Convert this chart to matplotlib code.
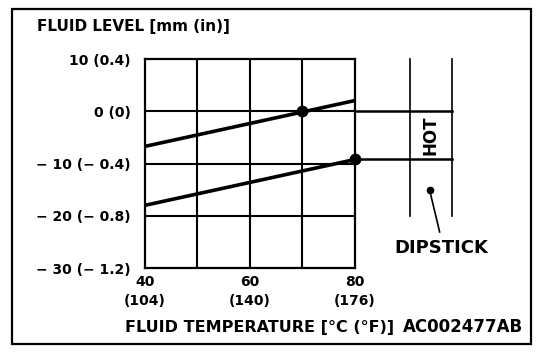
import matplotlib
matplotlib.use("Agg")
import matplotlib.pyplot as plt
from matplotlib.patches import Rectangle

# Chart values.
y_ticks = [10, 0, -10, -20, -30]
y_labels = ["10 (0.4)", "0 (0)", "− 10 (− 0.4)", "− 20 (− 0.8)", "− 30 (− 1.2)"]
x_ticks = [40, 60, 80]
x_labels = ["40\n(104)", "60\n(140)", "80\n(176)"]
x_grid = [50, 60, 70]
y_grid = [0, -10, -20]

upper_temp = [40, 80]
upper_level = [-6.7, 2.1]
lower_temp = [40, 80]
lower_level = [-18.0, -9.2]
hot_temp = [70, 80]
hot_level = [0, -9.2]

# Dipstick drawing (same data units as the chart, outside the axes).
dipstick_x = [90.4, 98.4]
dipstick_top = 10
dipstick_bottom = -20
dipstick_dot = (94.2, -15.1)
dipstick_leader_end = (96.1, -23.1)

W, H = 560, 364
fig = plt.figure(figsize=(W / 100, H / 100), dpi=100)
plt.rcParams["font.family"] = "DejaVu Sans"
plt.rcParams["font.weight"] = "bold"

ax = fig.add_axes([144.7 / W, 1 - 268 / H, (355 - 144.7) / W, (268 - 59.3) / H])
ax.set_xlim(40, 80)
ax.set_ylim(-30, 10)

for s in ax.spines.values():
    s.set_linewidth(1.6)

ax.set_yticks(y_ticks)
ax.set_yticklabels(y_labels, fontsize=10, fontweight="bold")
ax.set_xticks(x_ticks)
ax.set_xticklabels(x_labels, fontsize=10, fontweight="bold", linespacing=1.45)
ax.tick_params(axis="y", length=0, pad=10)
ax.tick_params(axis="x", length=0, pad=5)

for x in x_grid:
    ax.axvline(x, color="black", lw=1.5)
for y in y_grid:
    ax.axhline(y, color="black", lw=1.5)

ax.plot(upper_temp, upper_level, color="black", lw=2.6, solid_capstyle="butt")
ax.plot(lower_temp, lower_level, color="black", lw=2.6, solid_capstyle="butt")
ax.plot(hot_temp, hot_level, "o", color="black", ms=7.5, clip_on=False, zorder=5)

# HOT range lines extended to the dipstick
for y in hot_level:
    ax.plot([80, dipstick_x[1]], [y, y], color="black", lw=1.8, clip_on=False)
for x in dipstick_x:
    ax.plot([x, x], [dipstick_top, dipstick_bottom], color="black", lw=1.2, clip_on=False)
ax.text(sum(dipstick_x) / 2, sum(hot_level) / 2, "HOT", rotation=90,
        ha="center", va="center", fontsize=12, fontweight="bold")
ax.plot(*dipstick_dot, "o", color="black", ms=4.5, clip_on=False)
ax.plot([dipstick_dot[0], dipstick_leader_end[0]], [dipstick_dot[1], dipstick_leader_end[1]],
        color="black", lw=1.2, clip_on=False)
ax.text(96.5, -27.2, "DIPSTICK", ha="center", va="baseline", fontsize=13, fontweight="bold")

fig.text(37 / W, 1 - 30.7 / H, "FLUID LEVEL [mm (in)]", ha="left", va="baseline",
         fontsize=11, fontweight="bold")
fig.text(125 / W, 1 - 332 / H, "FLUID TEMPERATURE [°C (°F)]", ha="left", va="baseline",
         fontsize=11.5, fontweight="bold")
fig.text(403 / W, 1 - 332 / H, "AC002477AB", ha="left", va="baseline",
         fontsize=12, fontweight="bold")

fig.patches.append(Rectangle((12 / W, 1 - 344 / H), 519 / W, 335 / H, transform=fig.transFigure,
                             fill=False, edgecolor="black", lw=1.6))

fig.savefig("out.png", dpi=100)
